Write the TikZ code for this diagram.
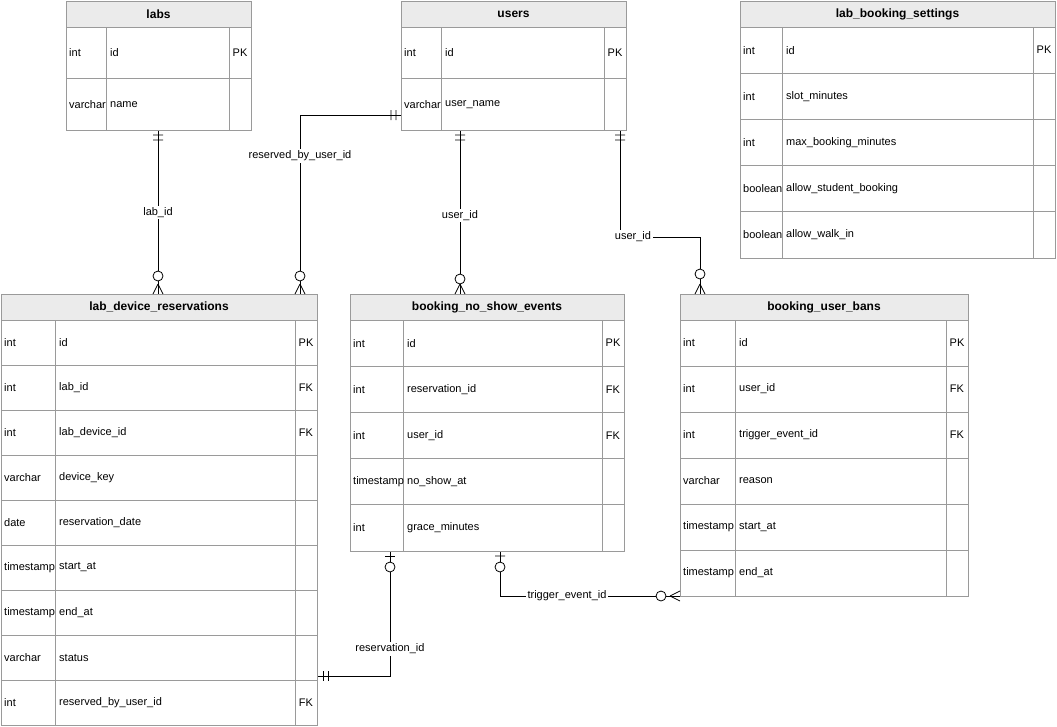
\documentclass[tikz,border=0pt]{standalone}
\usepackage{fontspec}
\setmainfont{Liberation Sans}
\begin{document}
\newcommand\ertable[9]{%
\node[draw=ln,line width=0.8pt,anchor=north west,minimum width=#5pt,minimum height=#8pt,inner sep=0pt] (#1) at (#3,#4) {};
\filldraw[fill=hd,draw=ln,line width=0.8pt] (#3,#4) rectangle ++(#5,26);
\node[font=\fontsize{12}{14}\selectfont\bfseries] at (#3+#5/2,#4+13) {#2};
\foreach \ty/\nm/\ky [count=\i] in {#9}{
  \draw[ln,line width=0.8pt] (#3,#4+26+\i*#7-#7) rectangle (#3+#5,#4+26+\i*#7);
  \draw[ln,line width=0.8pt] (#3+#6,#4+26+\i*#7-#7) -- (#3+#6,#4+26+\i*#7)
    (#3+#5-22,#4+26+\i*#7-#7) -- (#3+#5-22,#4+26+\i*#7);
  \node[anchor=west,inner sep=0pt] at (#3+3,#4+26+\i*#7-#7/2) {\ty};
  \node[anchor=west,inner sep=0pt] at (#3+#6+4,#4+26+\i*#7-#7/2) {\nm};
  \node[inner sep=0pt] at (#3+#5-11,#4+26+\i*#7-#7/2) {\ky};
}}
\begin{tikzpicture}[x=1pt,y=-1pt,font=\fontsize{11}{13}\selectfont,
  rel/.style={line width=0.8pt},lbl/.style={fill=white,inner sep=1.5pt}]
\definecolor{ln}{HTML}{9A9A9A}\definecolor{hd}{HTML}{EBEBEB}
\useasboundingbox (0,0) rectangle (1057,726);
\ertable{labs}{labs}{66}{1}{185}{40}{51.5}{129}{int/id/PK,varchar/name/{}}
\ertable{users}{users}{401}{1}{225}{40}{51.5}{129}{int/id/PK,varchar/user\_name/{}}
\ertable{lbs}{lab\_booking\_settings}{740}{1}{315}{42}{46.2}{257}{int/id/PK,int/slot\_minutes/{},int/max\_booking\_minutes/{},boolean/allow\_student\_booking/{},boolean/allow\_walk\_in/{}}
\ertable{ldr}{lab\_device\_reservations}{1}{294}{316}{54}{45}{431}{int/id/PK,int/lab\_id/FK,int/lab\_device\_id/FK,varchar/device\_key/{},date/reservation\_date/{},timestamp/start\_at/{},timestamp/end\_at/{},varchar/status/{},int/reserved\_by\_user\_id/FK}
\ertable{bnse}{booking\_no\_show\_events}{350}{294}{274}{53}{46.2}{257}{int/id/PK,int/reservation\_id/FK,int/user\_id/FK,timestamp/no\_show\_at/{},int/grace\_minutes/{}}
\ertable{bub}{booking\_user\_bans}{680}{294}{288}{55}{46}{302}{int/id/PK,int/user\_id/FK,int/trigger\_event\_id/FK,varchar/reason/{},timestamp/start\_at/{},timestamp/end\_at/{}}
% labs -> ldr
\draw[rel] (158,0 |- labs.south) -- (158,0 |- ldr.north) node[lbl,pos=0.5] {lab\_id};
\draw[rel] (153,135)--(163,135) (153,140)--(163,140) (158,284)--(153,294) (158,284)--(163,294);
\draw[rel,fill=white] (158,276) circle (5);
% users -> ldr
\draw[rel] (users.west |- 0,115) -- (300,115) -- (300,0 |- ldr.north);
\node[lbl] at (300,156) {reserved\_by\_user\_id};
\draw[rel] (391,110)--(391,120) (396,110)--(396,120) (300,284)--(295,294) (300,284)--(305,294);
\draw[rel,fill=white] (300,276) circle (5);
% users -> bnse
\draw[rel] (460,0 |- users.south) -- (460,0 |- bnse.north) node[lbl,pos=0.52] {user\_id};
\draw[rel] (455,135)--(465,135) (455,140)--(465,140) (460,284)--(455,294) (460,284)--(465,294);
\draw[rel,fill=white] (460,279) circle (5);
% users -> bub
\draw[rel] (620,0 |- users.south) -- (620,237) -- (700,237) -- (700,0 |- bub.north);
\node[lbl] at (633,237) {user\_id};
\draw[rel] (615,135)--(625,135) (615,140)--(625,140) (700,284)--(695,294) (700,284)--(705,294);
\draw[rel,fill=white] (700,274) circle (5);
% bnse -> ldr
\draw[rel] (390,0 |- bnse.south) -- (390,676) -- (ldr.east |- 0,676);
\node[lbl] at (390,649) {reservation\_id};
\draw[rel] (385,556)--(395,556) (323,671)--(323,681) (328,671)--(328,681);
\draw[rel,fill=white] (390,567) circle (5);
% bnse -> bub
\draw[rel] (500,0 |- bnse.south) -- (500,596) -- (bub.west |- 0,596);
\node[lbl] at (567,596) {trigger\_event\_id};
\draw[rel] (495,556)--(505,556) (670,596)--(680,591) (670,596)--(680,601);
\draw[rel,fill=white] (500,567) circle (5);
\draw[rel,fill=white] (661,596) circle (5);
\end{tikzpicture}
\end{document}
